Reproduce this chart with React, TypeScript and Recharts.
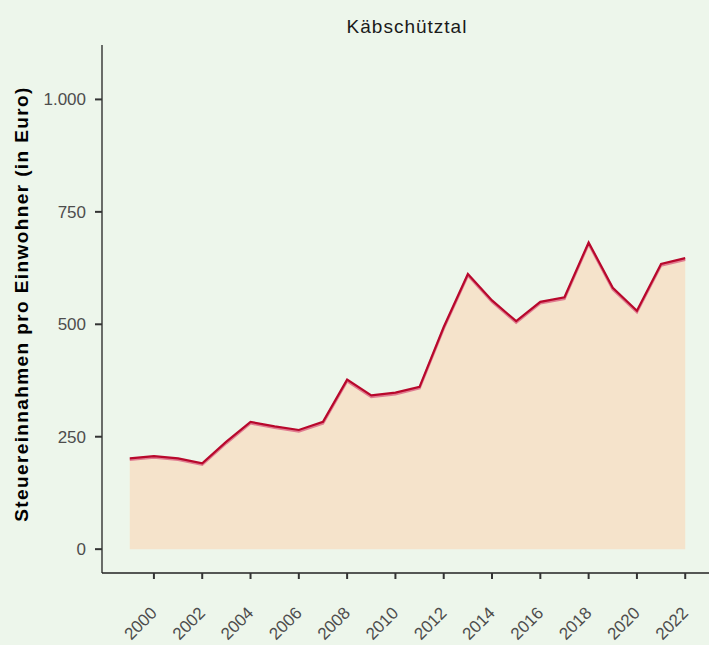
import React from 'react';
import { ComposedChart, Area, Line, XAxis, YAxis } from 'recharts';

const years = [
  1999, 2000, 2001, 2002, 2003, 2004, 2005, 2006, 2007, 2008, 2009, 2010,
  2011, 2012, 2013, 2014, 2015, 2016, 2017, 2018, 2019, 2020, 2021, 2022,
];
const taxPerCapita = [
  202, 207, 202, 191, 239, 283, 273, 265, 283, 377, 342, 348,
  361, 494, 612, 553, 507, 550, 560, 682, 581, 530, 634, 647,
];
const xTicks = [2000, 2002, 2004, 2006, 2008, 2010, 2012, 2014, 2016, 2018, 2020, 2022];
const yTicks = [0, 250, 500, 750, 1000];

const title = 'Käbschütztal';
const yTitle = 'Steuereinnahmen pro Einwohner (in Euro)';

const data = years.map((year, i) => ({ year, value: taxPerCapita[i] }));

const FONT = '"Liberation Sans", Arial, sans-serif';
const BG = '#EDF6EB';

const fmt = (v: number) => v.toLocaleString('de-DE');

const XTick = ({ x, payload }: any) => (
  <text
    transform={`translate(${x + 4}, 614) rotate(-45)`}
    textAnchor="end"
    fontSize={17}
    fontFamily={FONT}
    fill="#4D4D4D"
  >
    {payload.value}
  </text>
);

export default function App() {
  return (
    <div
      style={{
        position: 'absolute',
        left: 0,
        top: 0,
        width: 709,
        height: 645,
        overflow: 'hidden',
        background: BG,
        fontFamily: FONT,
      }}
    >
      <style>{`.shadow-line { transform: translateY(1.5px); }`}</style>
      <div
        style={{
          position: 'absolute',
          left: 407,
          top: 16,
          transform: 'translateX(-50%)',
          fontSize: 19,
          letterSpacing: 1,
          color: '#1a1a1a',
          whiteSpace: 'nowrap',
        }}
      >
        {title}
      </div>
      <div
        style={{
          position: 'absolute',
          left: 22,
          top: 304,
          transform: 'translate(-50%, -50%) rotate(-90deg)',
          fontSize: 19,
          letterSpacing: 1.4,
          fontWeight: 'bold',
          color: '#000',
          whiteSpace: 'nowrap',
        }}
      >
        {yTitle}
      </div>
      <div style={{ position: 'absolute', left: 0, top: 0 }}>
        <ComposedChart
          width={718}
          height={645}
          data={data}
          margin={{ top: 45, right: 5, bottom: 0, left: 0 }}
        >
          <XAxis
            dataKey="year"
            type="number"
            domain={[1997.85, 2023.15]}
            ticks={xTicks}
            allowDataOverflow
            height={72}
            tick={<XTick />}
            tickSize={6}
            axisLine={{ stroke: '#222', strokeWidth: 1.3 }}
            tickLine={{ stroke: '#333', strokeWidth: 2 }}
            interval={0}
          />
          <YAxis
            type="number"
            domain={[-53, 1121]}
            ticks={yTicks}
            allowDataOverflow
            width={102}
            tickFormatter={fmt}
            tickSize={7}
            tickMargin={9}
            tick={{ fontSize: 17, fill: '#4D4D4D', fontFamily: FONT }}
            axisLine={{ stroke: '#222', strokeWidth: 1.3 }}
            tickLine={{ stroke: '#333', strokeWidth: 2 }}
          />
          <Area
            dataKey="value"
            type="linear"
            baseValue={0}
            fill="#F5E3CB"
            fillOpacity={1}
            stroke="none"
            isAnimationActive={false}
          />
          <Line
            dataKey="value"
            type="linear"
            className="shadow-line"
            stroke="#E07C90"
            strokeWidth={2.5}
            dot={false}
            activeDot={false}
            isAnimationActive={false}
          />
          <Line
            dataKey="value"
            type="linear"
            stroke="#B8082C"
            strokeWidth={2.2}
            dot={false}
            activeDot={false}
            isAnimationActive={false}
          />
        </ComposedChart>
      </div>
    </div>
  );
}
